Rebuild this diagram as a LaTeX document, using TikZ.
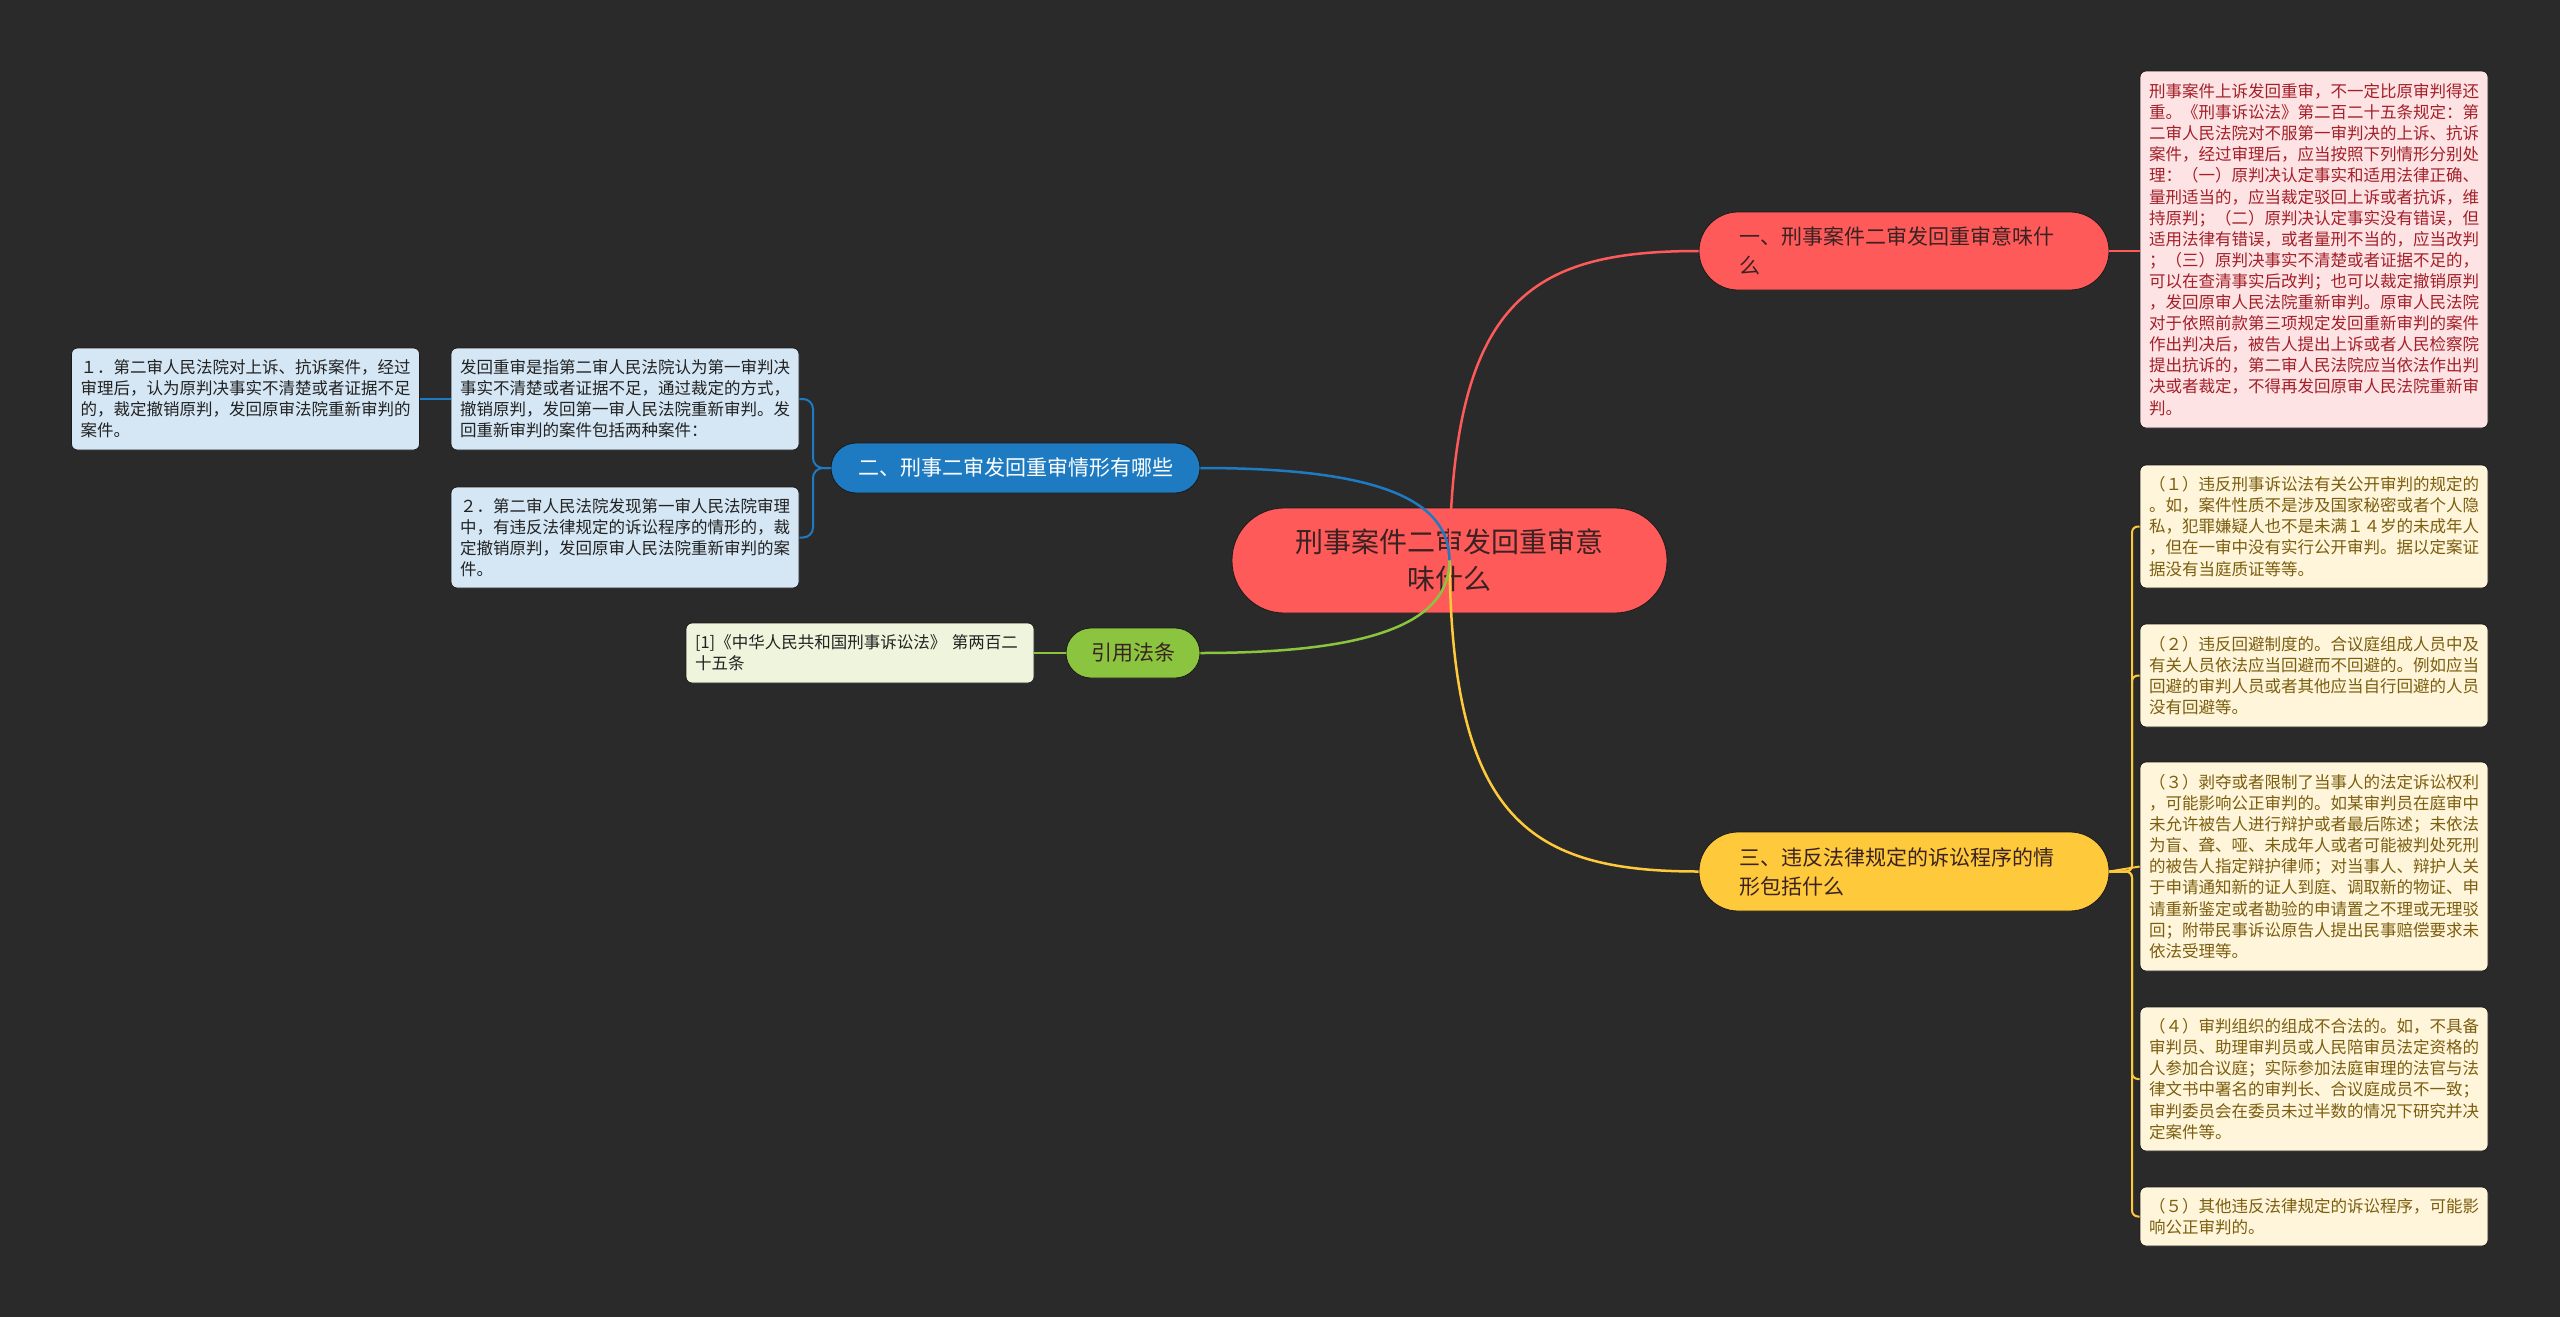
\documentclass[tikz,border=0pt]{standalone}
\usepackage{fontspec}
\setmainfont{Noto Sans CJK SC}
\definecolor{bgc}{HTML}{2A2A2A}
\definecolor{redc}{HTML}{FF5A5A}
\definecolor{redtxt}{HTML}{3A2222}
\definecolor{rbfill}{HTML}{FDE3E3}
\definecolor{rbtxt}{HTML}{A3202A}
\definecolor{yelc}{HTML}{FFC93C}
\definecolor{ybfill}{HTML}{FFF5DA}
\definecolor{ybtxt}{HTML}{7B5E0F}
\definecolor{bluec}{HTML}{1E7BC2}
\definecolor{bbfill}{HTML}{D5E7F5}
\definecolor{bbtxt}{HTML}{222222}
\definecolor{greenc}{HTML}{8BC53F}
\definecolor{gbfill}{HTML}{EEF5DC}
\definecolor{edgec}{HTML}{1A1A1A}
\begin{document}
\begin{tikzpicture}[x=1pt,y=-1pt,
  smallbox/.style={font=\fontsize{16.5}{21.1}\selectfont, align=left, text width=330pt,
    inner xsep=9pt, inner ysep=0pt, rounded corners=6pt, line width=0.8pt, draw=edgec},
  redbox/.style={smallbox, fill=rbfill, text=rbtxt},
  yelbox/.style={smallbox, fill=ybfill, text=ybtxt},
  bluebox/.style={smallbox, fill=bbfill, text=bbtxt},
  greenbox/.style={smallbox, fill=gbfill, text=bbtxt},
  topic/.style={font=\fontsize{21}{29}\selectfont, line width=0.8pt, draw=edgec},
  conn/.style={line width=2.5pt},
  redline/.style={conn, draw=redc},
  yelline/.style={conn, draw=yelc},
  blueline/.style={conn, draw=bluec},
  greenline/.style={conn, draw=greenc}
]
\fill[bgc] (0,0) rectangle (2560,1317);

% central node
\node[fill=redc, draw=edgec, line width=0.8pt, rounded corners=52pt, minimum width=435pt, minimum height=105pt,
  font=\fontsize{28}{37}\selectfont, align=center, text=redtxt] (c) at (1449.5,560.5)
  {刑事案件二审发回重审意\\味什么};

% topics
\node[topic, fill=redc, text=redtxt, rounded corners=39pt, minimum width=410pt, minimum height=78pt,
  text width=330pt, inner xsep=40pt, align=left] (n1) at (1904,251)
  {一、刑事案件二审发回重审意味什\\么};
\node[topic, fill=yelc, text=redtxt, rounded corners=39pt, minimum width=410pt, minimum height=79pt,
  text width=330pt, inner xsep=40pt, align=left] (n3) at (1904,871.5)
  {三、违反法律规定的诉讼程序的情\\形包括什么};
\node[topic, fill=bluec, text=white, rounded corners=25pt, minimum width=369pt, minimum height=50pt] (n2) at (1015.5,468)
  {二、刑事二审发回重审情形有哪些};
\node[topic, fill=greenc, text=redtxt, rounded corners=25pt, minimum width=134pt, minimum height=50pt] (n4) at (1133,653)
  {引用法条};

% red detail box
\node[redbox, minimum height=357pt] (rb) at (2314,249.5)
  {刑事案件上诉发回重审，不一定比原审判得还\\
重。《刑事诉讼法》第二百二十五条规定：第\\
二审人民法院对不服第一审判决的上诉、抗诉\\
案件，经过审理后，应当按照下列情形分别处\\
理：（一）原判决认定事实和适用法律正确、\\
量刑适当的，应当裁定驳回上诉或者抗诉，维\\
持原判；（二）原判决认定事实没有错误，但\\
适用法律有错误，或者量刑不当的，应当改判\\
；（三）原判决事实不清楚或者证据不足的，\\
可以在查清事实后改判；也可以裁定撤销原判\\
，发回原审人民法院重新审判。原审人民法院\\
对于依照前款第三项规定发回重新审判的案件\\
作出判决后，被告人提出上诉或者人民检察院\\
提出抗诉的，第二审人民法院应当依法作出判\\
决或者裁定，不得再发回原审人民法院重新审\\
判。};

% yellow detail boxes
\node[yelbox, minimum height=123pt] (y1) at (2314,526.5)
  {（１）违反刑事诉讼法有关公开审判的规定的\\
。如，案件性质不是涉及国家秘密或者个人隐\\
私，犯罪嫌疑人也不是未满１４岁的未成年人\\
，但在一审中没有实行公开审判。据以定案证\\
据没有当庭质证等等。};
\node[yelbox, minimum height=103pt] (y2) at (2314,675.5)
  {（２）违反回避制度的。合议庭组成人员中及\\
有关人员依法应当回避而不回避的。例如应当\\
回避的审判人员或者其他应当自行回避的人员\\
没有回避等。};
\node[yelbox, minimum height=209pt] (y3) at (2314,866.5)
  {（３）剥夺或者限制了当事人的法定诉讼权利\\
，可能影响公正审判的。如某审判员在庭审中\\
未允许被告人进行辩护或者最后陈述；未依法\\
为盲、聋、哑、未成年人或者可能被判处死刑\\
的被告人指定辩护律师；对当事人、辩护人关\\
于申请通知新的证人到庭、调取新的物证、申\\
请重新鉴定或者勘验的申请置之不理或无理驳\\
回；附带民事诉讼原告人提出民事赔偿要求未\\
依法受理等。};
\node[yelbox, minimum height=144pt] (y4) at (2314,1079)
  {（４）审判组织的组成不合法的。如，不具备\\
审判员、助理审判员或人民陪审员法定资格的\\
人参加合议庭；实际参加法庭审理的法官与法\\
律文书中署名的审判长、合议庭成员不一致；\\
审判委员会在委员未过半数的情况下研究并决\\
定案件等。};
\node[yelbox, minimum height=59pt] (y5) at (2314,1216.5)
  {（５）其他违反法律规定的诉讼程序，可能影\\
响公正审判的。};

% blue detail boxes
\node[bluebox, minimum height=102pt] (b0) at (625,399)
  {发回重审是指第二审人民法院认为第一审判决\\
事实不清楚或者证据不足，通过裁定的方式，\\
撤销原判，发回第一审人民法院重新审判。发\\
回重新审判的案件包括两种案件：};
\node[bluebox, minimum height=102pt] (b1) at (245.5,399)
  {１．第二审人民法院对上诉、抗诉案件，经过\\
审理后，认为原判决事实不清楚或者证据不足\\
的，裁定撤销原判，发回原审法院重新审判的\\
案件。};
\node[bluebox, minimum height=101pt] (b2) at (625,537.5)
  {２．第二审人民法院发现第一审人民法院审理\\
中，有违反法律规定的诉讼程序的情形的，裁\\
定撤销原判，发回原审人民法院重新审判的案\\
件。};

% citation box
\node[greenbox, minimum height=60pt] (cit) at (860,653)
  {[1]《中华人民共和国刑事诉讼法》 第两百二\\
十五条};

% connectors
\draw[redline] (c.center) .. controls (1452,300) and (1530,251) .. (n1.west);
\draw[yelline] (c.center) .. controls (1452,820) and (1530,871.5) .. (n3.west);
\draw[blueline] (n2.east) .. controls (1380,468) and (1449,500) .. (c.center);
\draw[greenline] (n4.east) .. controls (1380,653) and (1449,620) .. (c.center);

\draw[redline, line width=2pt] (n1.east) -- (n1.east -| rb.west);

\draw[yelline, line width=2pt, rounded corners=6pt] (n3.east) -- (2132,871.5) -- (2132,526.5) -- (y1.west);
\draw[yelline, line width=2pt, rounded corners=6pt] (n3.east) -- (2132,871.5) -- (2132,675.5) -- (y2.west);
\draw[yelline, line width=2pt] (n3.east) -- (y3.west);
\draw[yelline, line width=2pt, rounded corners=6pt] (n3.east) -- (2132,871.5) -- (2132,1079) -- (y4.west);
\draw[yelline, line width=2pt, rounded corners=6pt] (n3.east) -- (2132,871.5) -- (2132,1216.5) -- (y5.west);

\draw[blueline, line width=2pt, rounded corners=10pt] (n2.west) -- (813,468) -- (813,399) -- (b0.east);
\draw[blueline, line width=2pt, rounded corners=10pt] (n2.west) -- (813,468) -- (813,537.5) -- (b2.east);
\draw[blueline, line width=2pt] (b0.west) -- (b1.east);

\draw[greenline, line width=2pt] (n4.west) -- (cit.east);
\end{tikzpicture}
\end{document}
